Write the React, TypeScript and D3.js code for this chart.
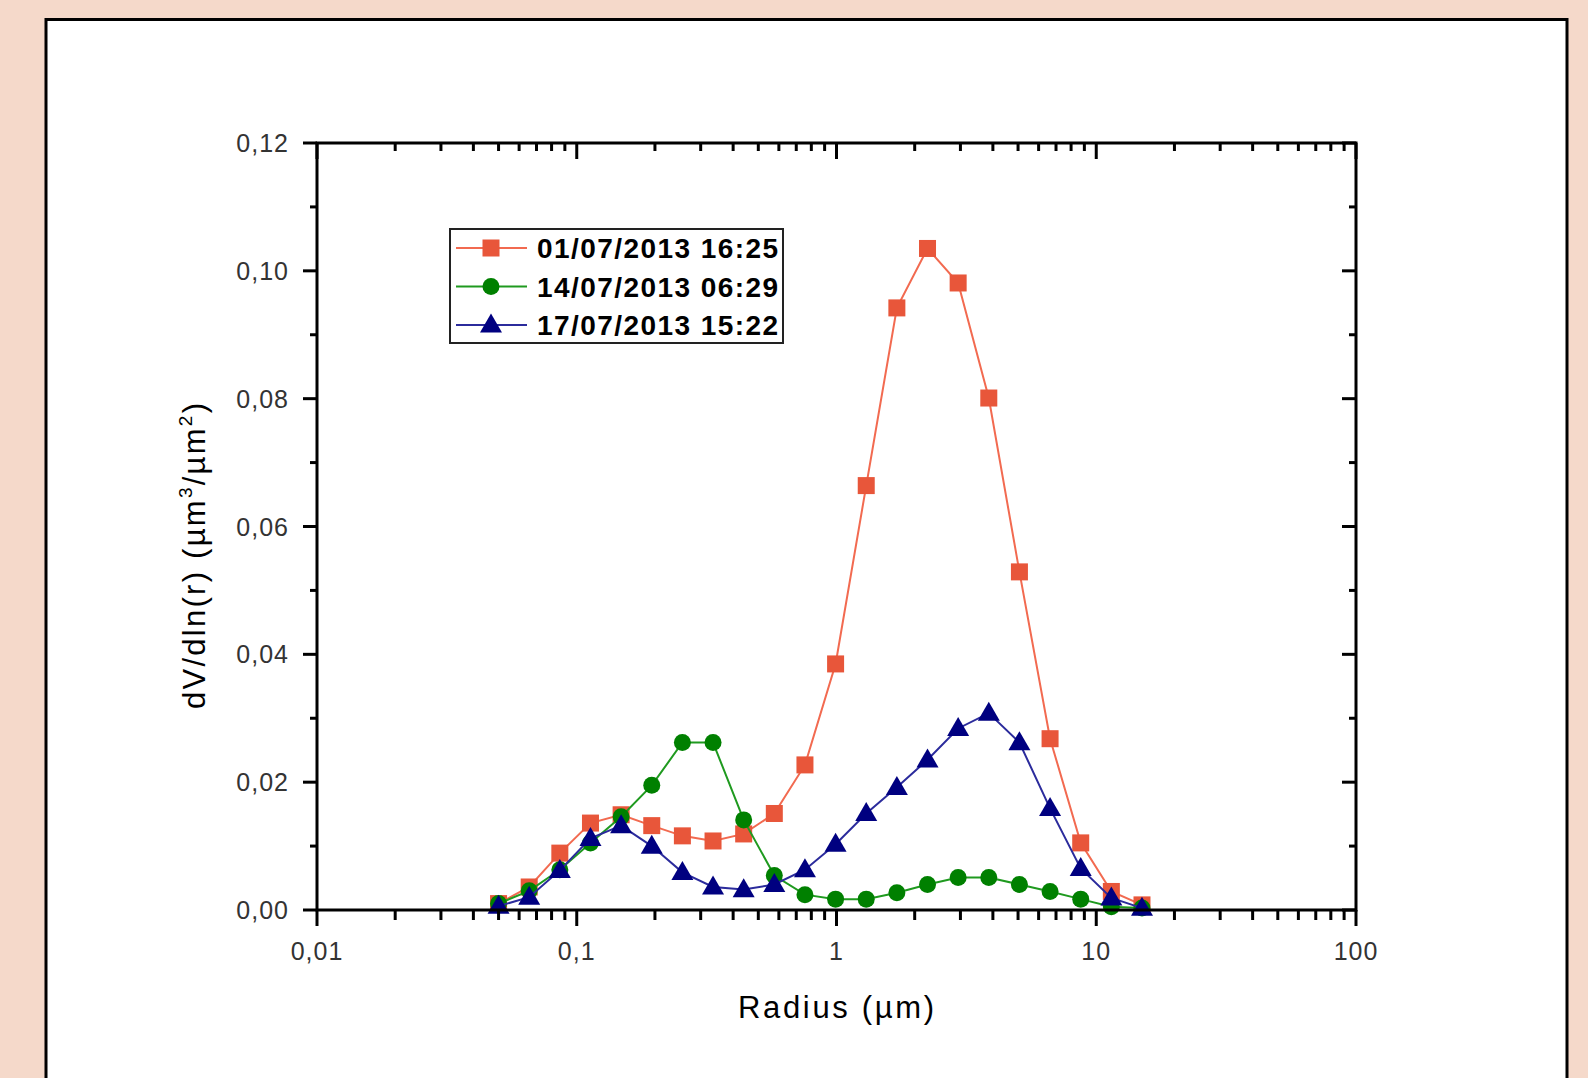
import React from "react";
import * as d3 from "d3";

// AERONET size bins (µm)
const radius = [
  0.05, 0.065604, 0.086077, 0.112939, 0.148184, 0.194429, 0.255105, 0.334716,
  0.439173, 0.576227, 0.756052, 0.991996, 1.301571, 1.707757, 2.240702,
  2.939966, 3.857452, 5.06126, 6.640745, 8.713145, 11.432287, 15.0,
];

const series1 = [
  0.001, 0.0036, 0.0089, 0.0136, 0.0149, 0.0132, 0.0116, 0.0108, 0.0119,
  0.0151, 0.0227, 0.0385, 0.0664, 0.0942, 0.1035, 0.0981, 0.0801, 0.0529,
  0.0268, 0.0105, 0.0029, 0.0008,
];
const series2 = [
  0.001, 0.003, 0.0063, 0.0105, 0.0146, 0.0195, 0.0262, 0.0262, 0.0141,
  0.0054, 0.0024, 0.0017, 0.0017, 0.0027, 0.004, 0.0051, 0.0051, 0.004,
  0.0029, 0.0017, 0.0005, 0.0003,
];
const series3 = [
  0.0006, 0.002, 0.0062, 0.0112, 0.0132, 0.01, 0.0059, 0.0036, 0.0032, 0.004,
  0.0063, 0.0103, 0.0151, 0.0192, 0.0235, 0.0284, 0.0308, 0.0262, 0.0159,
  0.0065, 0.0019, 0.0003,
];

const seriesNames = ["01/07/2013 16:25", "14/07/2013 06:29", "17/07/2013 15:22"];
const yTicks = [0, 0.02, 0.04, 0.06, 0.08, 0.1, 0.12];
const xTickLabels = ["0,01", "0,1", "1", "10", "100"];

const W = 1588;
const H = 1078;
const plot = { left: 317, right: 1356, top: 143, bottom: 910 };

const x = d3.scaleLog().domain([0.01, 100]).range([plot.left, plot.right]);
const y = d3.scaleLinear().domain([0, 0.12]).range([plot.bottom, plot.top]);

const styles = [
  { line: "#f26a50", fill: "#e8563a", shape: "square" },
  { line: "#1f9a1f", fill: "#008000", shape: "circle" },
  { line: "#2b2b9c", fill: "#000080", shape: "triangle" },
];

function Marker({ shape, cx, cy, fill }: { shape: string; cx: number; cy: number; fill: string }) {
  if (shape === "square")
    return <rect x={cx - 8.5} y={cy - 8.5} width={17} height={17} fill={fill} />;
  if (shape === "circle") return <circle cx={cx} cy={cy} r={8.5} fill={fill} />;
  const h = 19;
  const w = 22;
  return (
    <path
      d={`M${cx},${cy - h * 0.6} L${cx + w / 2},${cy + h * 0.4} L${cx - w / 2},${cy + h * 0.4} Z`}
      fill={fill}
    />
  );
}

export default function App() {
  const data = [series1, series2, series3];
  const line = d3
    .line<number>()
    .x((_, i) => x(radius[i]))
    .y((d) => y(d));

  const majorX = x.ticks().filter((t) => Math.abs(Math.log10(t) - Math.round(Math.log10(t))) < 1e-9);
  const minorX = x.ticks().filter((t) => !majorX.includes(t));
  const minorY = d3.range(0.01, 0.12, 0.02);

  const tickFont = "Liberation Sans, Arial, sans-serif";

  return (
    <svg
      width={W}
      height={H}
      style={{ position: "absolute", left: 0, top: 0, fontFamily: tickFont }}
    >
      <rect x={0} y={0} width={W} height={H} fill="#f5d9ca" />
      <rect x={46} y={19.5} width={1521} height={1100} fill="#ffffff" stroke="#000" strokeWidth={3} />

      {/* series */}
      {data.map((s, k) => (
        <g key={k}>
          <path d={line(s) || ""} fill="none" stroke={styles[k].line} strokeWidth={2} />
          {s.map((v, i) => (
            <Marker key={i} shape={styles[k].shape} cx={x(radius[i])} cy={y(v)} fill={styles[k].fill} />
          ))}
        </g>
      ))}

      {/* axes frame */}
      <rect
        x={plot.left}
        y={plot.top}
        width={plot.right - plot.left}
        height={plot.bottom - plot.top}
        fill="none"
        stroke="#000"
        strokeWidth={3}
      />

      {/* bottom + top ticks */}
      {majorX.map((t) => (
        <g key={"mx" + t}>
          <line x1={x(t)} x2={x(t)} y1={plot.bottom} y2={plot.bottom + 16} stroke="#000" strokeWidth={3} />
          <line x1={x(t)} x2={x(t)} y1={plot.top} y2={plot.top + 16} stroke="#000" strokeWidth={3} />
        </g>
      ))}
      {minorX.map((t) => (
        <g key={"nx" + t}>
          <line x1={x(t)} x2={x(t)} y1={plot.bottom} y2={plot.bottom + 10} stroke="#000" strokeWidth={3} />
          <line x1={x(t)} x2={x(t)} y1={plot.top} y2={plot.top + 8} stroke="#000" strokeWidth={3} />
        </g>
      ))}
      {majorX.map((t, i) => (
        <text
          key={"lx" + t}
          x={x(t)}
          y={960}
          textAnchor="middle"
          fontSize={25}
          fill="#333"
          letterSpacing={1}
        >
          {xTickLabels[i]}
        </text>
      ))}

      {/* left + right ticks */}
      {yTicks.map((t) => (
        <g key={"my" + t}>
          <line x1={plot.left - 14} x2={plot.left} y1={y(t)} y2={y(t)} stroke="#000" strokeWidth={3} />
          <line x1={plot.right - 14} x2={plot.right} y1={y(t)} y2={y(t)} stroke="#000" strokeWidth={3} />
          <text x={289} y={y(t) + 9} textAnchor="end" fontSize={25} fill="#333" letterSpacing={1}>
            {d3.format(".2f")(t).replace(".", ",")}
          </text>
        </g>
      ))}
      {minorY.map((t) => (
        <g key={"ny" + t}>
          <line x1={plot.left - 7} x2={plot.left} y1={y(t)} y2={y(t)} stroke="#000" strokeWidth={3} />
          <line x1={plot.right - 7} x2={plot.right} y1={y(t)} y2={y(t)} stroke="#000" strokeWidth={3} />
        </g>
      ))}

      {/* axis titles */}
      <text x={738} y={1018} fontSize={31} fill="#000" textLength={196} lengthAdjust="spacing">
        Radius (µm)
      </text>
      <text
        transform="translate(205,709) rotate(-90)"
        fontSize={31}
        fill="#000"
        textLength={306}
        lengthAdjust="spacing"
      >
        dV/dln(r) (µm<tspan dy={-13} fontSize={19}>3</tspan>
        <tspan dy={13}>/µm</tspan>
        <tspan dy={-13} fontSize={19}>2</tspan>
        <tspan dy={13}>)</tspan>
      </text>

      {/* legend */}
      <rect x={450} y={229} width={333} height={114} fill="#fff" stroke="#222" strokeWidth={2} />
      {seriesNames.map((name, k) => {
        const cy = 248 + k * 38.5;
        return (
          <g key={name}>
            <line x1={456} x2={527} y1={cy} y2={cy} stroke={styles[k].line} strokeWidth={2} />
            <Marker shape={styles[k].shape} cx={491} cy={cy} fill={styles[k].fill} />
            <text
              x={537}
              y={cy + 10}
              fontSize={28}
              fontWeight="bold"
              fill="#000"
              textLength={241}
              lengthAdjust="spacing"
            >
              {name}
            </text>
          </g>
        );
      })}
    </svg>
  );
}
